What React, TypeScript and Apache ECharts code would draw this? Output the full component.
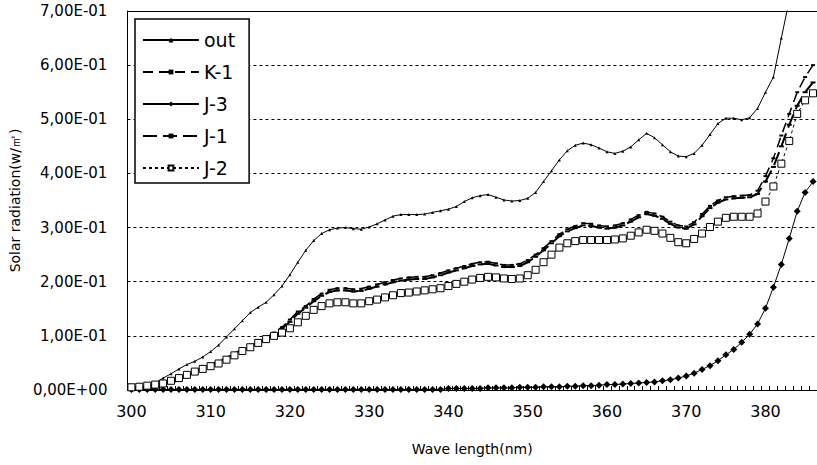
import React, { useEffect, useRef } from "react";
import * as echarts from "echarts";

const wavelengths: string[] = Array.from({ length: 87 }, (_, i) => String(300 + i));

const outValues = [
  0.002, 0.004, 0.007, 0.013, 0.022, 0.030, 0.039, 0.047, 0.053, 0.061,
  0.071, 0.083, 0.098, 0.113, 0.128, 0.143, 0.153, 0.162, 0.176, 0.192,
  0.213, 0.236, 0.258, 0.276, 0.289, 0.296, 0.299, 0.300, 0.298, 0.297,
  0.301, 0.307, 0.314, 0.321, 0.324, 0.324, 0.324, 0.325, 0.328, 0.331,
  0.334, 0.339, 0.348, 0.355, 0.359, 0.361, 0.356, 0.351, 0.349, 0.350,
  0.354, 0.365, 0.385, 0.405, 0.425, 0.442, 0.452, 0.456, 0.453, 0.447,
  0.440, 0.437, 0.441, 0.449, 0.462, 0.474, 0.466, 0.453, 0.440, 0.432,
  0.431, 0.437, 0.452, 0.472, 0.492, 0.502, 0.502, 0.499, 0.503, 0.520,
  0.550, 0.578, 0.650, 0.720, 0.790, 0.860, 0.930,
];

const k1Values = [
  0.001, 0.002, 0.003, 0.005, 0.009, 0.014, 0.021, 0.028, 0.035, 0.042,
  0.048, 0.053, 0.060, 0.068, 0.075, 0.082, 0.089, 0.097, 0.106, 0.116,
  0.130, 0.145, 0.155, 0.168, 0.178, 0.185, 0.188, 0.188, 0.186, 0.187,
  0.191, 0.195, 0.199, 0.203, 0.206, 0.208, 0.209, 0.209, 0.212, 0.216,
  0.221, 0.225, 0.229, 0.233, 0.236, 0.237, 0.234, 0.231, 0.231, 0.233,
  0.240, 0.250, 0.262, 0.275, 0.288, 0.297, 0.303, 0.308, 0.307, 0.304,
  0.302, 0.304, 0.308, 0.315, 0.323, 0.329, 0.326, 0.320, 0.311, 0.304,
  0.302, 0.310, 0.325, 0.340, 0.350, 0.356, 0.358, 0.359, 0.360, 0.368,
  0.395, 0.428, 0.470, 0.510, 0.550, 0.578, 0.600,
];

const j3Values = [
  0.001, 0.001, 0.001, 0.001, 0.001, 0.001, 0.001, 0.001, 0.001, 0.001,
  0.001, 0.001, 0.001, 0.001, 0.001, 0.001, 0.001, 0.001, 0.001, 0.001,
  0.001, 0.001, 0.001, 0.001, 0.001, 0.001, 0.001, 0.001, 0.001, 0.001,
  0.001, 0.001, 0.001, 0.001, 0.001, 0.001, 0.001, 0.001, 0.001, 0.001,
  0.003, 0.003, 0.003, 0.003, 0.003, 0.004, 0.004, 0.004, 0.004, 0.005,
  0.005, 0.005, 0.006, 0.006, 0.006, 0.007, 0.007, 0.008, 0.008, 0.009,
  0.010, 0.010, 0.011, 0.012, 0.013, 0.014, 0.015, 0.017, 0.019, 0.022,
  0.026, 0.031, 0.038, 0.045, 0.054, 0.065, 0.075, 0.088, 0.103, 0.122,
  0.151, 0.190, 0.232, 0.280, 0.330, 0.365, 0.385,
];

const j1Values = [
  0.001, 0.002, 0.003, 0.005, 0.008, 0.013, 0.019, 0.026, 0.033, 0.040,
  0.046, 0.051, 0.057, 0.065, 0.072, 0.079, 0.086, 0.094, 0.103, 0.113,
  0.126, 0.141, 0.152, 0.164, 0.174, 0.181, 0.184, 0.184, 0.182, 0.183,
  0.187, 0.191, 0.195, 0.199, 0.202, 0.204, 0.205, 0.205, 0.208, 0.212,
  0.217, 0.221, 0.225, 0.229, 0.232, 0.233, 0.230, 0.227, 0.227, 0.229,
  0.236, 0.246, 0.258, 0.271, 0.284, 0.293, 0.299, 0.304, 0.303, 0.300,
  0.298, 0.300, 0.304, 0.311, 0.319, 0.325, 0.322, 0.316, 0.307, 0.300,
  0.298, 0.306, 0.321, 0.336, 0.346, 0.352, 0.354, 0.355, 0.356, 0.362,
  0.385, 0.412, 0.450, 0.490, 0.525, 0.550, 0.568,
];

const j2Values = [
  0.005, 0.006, 0.008, 0.010, 0.012, 0.017, 0.022, 0.028, 0.034, 0.039,
  0.044, 0.049, 0.056, 0.064, 0.072, 0.079, 0.087, 0.094, 0.100, 0.106,
  0.114, 0.125, 0.137, 0.148, 0.155, 0.160, 0.162, 0.162, 0.160, 0.160,
  0.164, 0.167, 0.171, 0.175, 0.179, 0.180, 0.182, 0.184, 0.186, 0.188,
  0.192, 0.196, 0.200, 0.204, 0.207, 0.209, 0.208, 0.206, 0.205, 0.206,
  0.212, 0.222, 0.236, 0.250, 0.263, 0.271, 0.275, 0.277, 0.277, 0.277,
  0.277, 0.278, 0.280, 0.285, 0.291, 0.296, 0.294, 0.289, 0.281, 0.273,
  0.271, 0.279, 0.289, 0.301, 0.311, 0.318, 0.320, 0.320, 0.320, 0.326,
  0.348, 0.376, 0.418, 0.460, 0.510, 0.535, 0.548,
];

const seriesNames = ["out", "K-1", "J-3", "J-1", "J-2"];

const FONT = "DejaVu Sans";

function formatExp(v: number): string {
  const s = v.toExponential(2);
  const [mant, exp] = s.split("e");
  const sign = exp.startsWith("-") ? "-" : "+";
  const digits = exp.replace(/[+-]/, "").padStart(2, "0");
  return mant.replace(".", ",") + "E" + sign + digits;
}

export default function App() {
  const ref = useRef<HTMLDivElement>(null);

  useEffect(() => {
    if (!ref.current) return;
    const chart = echarts.init(ref.current, undefined, { renderer: "svg" });
    const option: any = {
      animation: false,
      backgroundColor: "#fff",
      grid: { left: 120, top: 11, width: 700, height: 379, containLabel: false },
      legend: {
        orient: "vertical",
        left: 135,
        top: 19,
        data: seriesNames,
        itemWidth: 56,
        itemHeight: 6,
        itemGap: 12,
        padding: [11, 14, 5, 7],
        backgroundColor: "#fff",
        borderColor: "#000",
        borderWidth: 1.5,
        borderRadius: 0,
        textStyle: { fontFamily: FONT, fontSize: 19, color: "#000", lineHeight: 20 },
      },
      xAxis: [
        {
          type: "category",
          data: wavelengths,
          boundaryGap: true,
          position: "bottom",
          axisLine: { show: true, lineStyle: { color: "#000", width: 1 } },
          axisTick: { show: true, inside: true, length: 4, interval: 0, lineStyle: { color: "#000" } },
          axisLabel: {
            interval: (idx: number, val: string) => Number(val) % 10 === 0,
            fontFamily: FONT,
            fontSize: 16,
            color: "#000",
            margin: 13,
          },
          splitLine: { show: false },
          name: "Wave length(nm)",
          nameLocation: "middle",
          nameGap: 52,
          nameTextStyle: { fontFamily: FONT, fontSize: 14, color: "#000" },
        },
        {
          type: "category",
          data: wavelengths,
          position: "top",
          axisLine: { show: true, lineStyle: { color: "#000", width: 1 } },
          axisTick: { show: false },
          axisLabel: { show: false },
          splitLine: { show: false },
        },
      ],
      yAxis: {
        type: "value",
        min: 0,
        max: 0.7,
        interval: 0.1,
        axisLine: { show: true, lineStyle: { color: "#000", width: 1 } },
        axisTick: { show: false },
        axisLabel: {
          formatter: (v: number) => formatExp(v),
          fontFamily: FONT,
          fontSize: 15,
          color: "#000",
          margin: 20,
        },
        splitLine: { show: true, lineStyle: { color: "#000", type: [3, 3], width: 1 } },
        name: "Solar radiation(w/㎡)",
        nameLocation: "middle",
        nameGap: 99,
        nameTextStyle: { fontFamily: FONT, fontSize: 14, color: "#000" },
      },
      series: [
        {
          name: "out",
          type: "line",
          data: outValues,
          showAllSymbol: true,
          symbol: "triangle",
          symbolSize: 3,
          lineStyle: { color: "#000", width: 1 },
          itemStyle: { color: "#000" },
        },
        {
          name: "K-1",
          type: "line",
          data: k1Values,
          showAllSymbol: true,
          symbol: "rect",
          symbolSize: [4, 2],
          lineStyle: { color: "#000", width: 1.5, type: [10, 6] },
          itemStyle: { color: "#000" },
        },
        {
          name: "J-3",
          type: "line",
          data: j3Values,
          showAllSymbol: true,
          symbol: "diamond",
          symbolSize: 7,
          lineStyle: { color: "#000", width: 1 },
          itemStyle: { color: "#000" },
        },
        {
          name: "J-1",
          type: "line",
          data: j1Values,
          showAllSymbol: true,
          symbol: "rect",
          symbolSize: [5, 2],
          lineStyle: { color: "#000", width: 2, type: [14, 6] },
          itemStyle: { color: "#000" },
        },
        {
          name: "J-2",
          type: "line",
          data: j2Values,
          showAllSymbol: true,
          symbol: "rect",
          symbolSize: 7,
          lineStyle: { color: "#000", width: 1, type: [3, 3] },
          itemStyle: { color: "#fff", borderColor: "#000", borderWidth: 1 },
        },
      ],
    };
    chart.setOption(option);
    return () => chart.dispose();
  }, []);

  return (
    <div
      ref={ref}
      style={{ position: "absolute", left: 0, top: 0, width: 817, height: 465, overflow: "hidden" }}
    />
  );
}
